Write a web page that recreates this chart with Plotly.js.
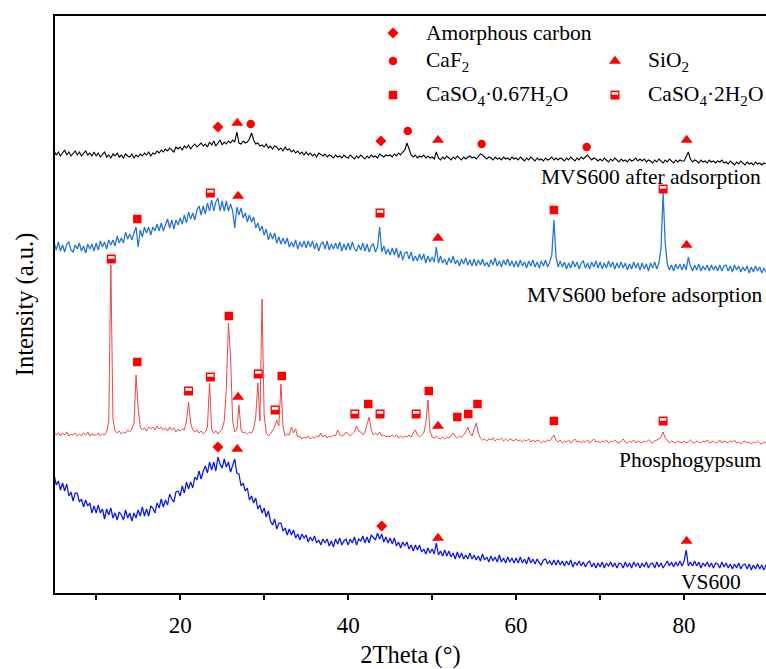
<!DOCTYPE html>
<html>
<head>
<meta charset="utf-8">
<script src="https://cdn.plot.ly/plotly-3.0.1.min.js"></script>
<style>html,body{margin:0;padding:0;background:#fff;}#chart{width:766px;height:669px;}</style>
</head>
<body>
<div id="chart"></div>
<script>
// XRD scan: start angle and step (degrees 2Theta)
const SCAN_START = 5;
const SCAN_STEP = 0.25;

// Intensities (a.u., stacked offsets), one value per scan step from 5 to 90 deg
const mvsAfter = [
442,438,441,437,440,443,438,441,437,440,442,438,441,437,439,442,438,440,437,441,
437,440,436,439,441,436,438,435,439,437,440,436,438,435,439,437,436,439,435,438,
436,439,437,440,438,441,437,440,439,442,440,443,441,444,442,445,443,441,446,444,
446,443,447,445,448,444,447,449,446,448,450,447,449,446,451,448,452,447,450,453,
448,451,449,452,450,453,451,461,450,449,452,450,451,454,460,453,449,450,447,448,
446,449,445,447,444,447,446,443,445,442,446,443,444,441,443,440,442,439,441,438,
441,438,440,437,439,436,440,438,437,439,436,438,437,435,438,436,437,435,438,436,
435,438,436,434,437,435,438,436,434,437,435,438,436,437,435,439,437,436,438,437,
438,436,439,437,440,438,441,443,450,444,438,436,438,435,437,436,438,435,437,435,
436,434,441,435,433,436,434,437,435,433,436,434,437,435,433,436,434,436,437,435,
436,434,437,439,438,436,434,436,435,433,436,434,435,433,436,434,435,433,436,434,
435,433,436,434,432,435,433,436,434,432,435,433,434,432,435,433,434,436,433,435,
433,435,434,432,435,433,436,434,432,435,433,436,434,436,438,435,433,435,434,432,
434,432,435,433,431,434,432,435,433,431,434,432,433,431,434,432,433,435,432,434,
432,434,431,433,432,430,433,431,434,432,430,433,431,434,432,430,433,431,433,432,
432,436,441,434,431,433,432,430,433,431,432,430,433,431,432,430,432,431,433,430,
431,429,432,430,428,431,429,432,430,428,431,429,430,428,431,429,430,428,430,429,
430];

const mvsBefore = [
350,343,351,342,348,341,349,351,343,341,348,344,350,342,347,340,349,344,349,342,
350,343,352,346,351,344,353,348,353,347,357,350,355,350,361,354,359,353,360,366,
346,363,356,366,360,366,358,366,362,369,362,370,362,369,374,365,373,364,373,368,
375,369,378,370,381,374,380,373,383,387,378,387,379,390,382,393,382,391,395,382,
392,382,392,382,389,382,365,386,378,385,375,380,371,378,371,376,365,370,362,367,
358,364,353,360,354,360,350,356,349,355,349,355,346,351,346,353,344,351,346,352,
345,352,346,352,344,350,342,349,351,344,352,343,349,344,350,344,351,342,349,343,
350,343,351,344,342,348,343,350,342,349,341,347,349,341,346,366,341,347,339,344,
338,345,338,345,335,342,333,340,341,334,341,332,337,332,339,333,339,330,337,331,
336,331,346,330,337,330,334,328,335,330,337,329,333,327,334,329,335,328,333,327,
334,327,333,328,334,327,331,326,333,328,335,327,332,326,333,328,334,327,332,326,
332,326,333,327,331,325,332,327,333,326,331,325,332,327,333,326,331,338,373,336,
326,332,326,331,324,330,325,332,326,331,324,330,332,325,330,324,331,326,332,325,
331,324,330,325,332,326,331,324,330,325,331,325,330,323,329,324,331,325,330,323,
330,324,329,322,330,325,331,324,330,345,400,350,329,323,328,322,329,324,329,323,
329,323,336,327,322,328,323,329,322,327,323,328,322,328,323,327,322,328,322,327,
328,322,327,321,328,323,327,321,326,322,327,320,326,321,327,322,326,320,325,321,
324];

const phosphogypsum = [
161,158,160,157,160,158,161,157,159,158,160,157,159,157,160,158,161,157,159,158,
158,160,157,159,158,161,172,328,174,162,160,162,159,161,160,163,161,164,169,218,
185,166,163,165,162,166,164,166,163,167,164,166,163,165,162,166,163,165,161,164,
162,164,163,172,191,170,163,161,163,160,162,159,161,166,210,164,160,162,159,162,
164,172,205,270,236,172,161,163,188,163,160,161,159,161,160,164,176,210,172,294,
178,160,157,159,163,166,173,167,209,166,157,159,158,166,160,164,156,157,154,156,
155,157,154,156,155,157,156,160,156,158,155,157,156,158,157,163,158,157,158,161,
159,157,159,161,167,162,161,158,161,168,176,163,158,160,158,161,157,158,156,157,
156,158,156,158,155,157,155,157,156,158,156,160,163,158,156,158,160,170,193,162,
156,155,157,155,154,156,154,156,155,157,160,157,155,157,156,158,161,166,160,157,
163,170,160,155,153,154,152,154,153,155,152,154,153,155,152,154,152,154,153,152,
154,152,153,151,153,152,154,151,153,151,153,152,150,152,151,153,152,155,158,153,
151,153,150,152,151,153,150,152,154,151,152,150,152,151,153,150,152,154,151,152,
150,152,151,153,150,152,151,153,151,150,152,154,151,150,152,151,153,150,152,151,
150,152,151,153,151,150,152,153,154,156,161,155,152,150,152,151,150,152,151,150,
152,150,151,153,151,150,152,151,150,152,151,153,150,151,152,150,151,153,150,152,
151,150,152,151,153,150,151,149,151,152,150,151,149,151,150,152,150,149,151,150,
150];

const vs600 = [
118,108,112,103,110,102,109,97,101,92,100,100,91,94,86,93,87,90,80,87,
80,88,80,84,74,84,78,85,75,80,73,81,78,73,83,75,80,72,80,75,
83,77,86,77,84,77,87,85,80,90,85,94,86,93,88,99,94,91,101,102,
97,107,100,111,104,111,105,116,113,122,114,122,127,120,131,123,131,122,136,129,
125,134,126,131,121,127,134,120,119,107,110,102,105,93,97,90,95,84,88,80,
85,76,82,72,68,74,64,70,70,62,65,58,64,58,63,55,59,53,59,55,
58,51,56,52,57,50,53,48,54,50,54,47,52,46,54,49,55,48,52,54,
48,54,50,56,48,54,52,57,50,56,50,58,56,53,60,54,59,51,56,50,
55,49,55,47,51,45,51,47,51,44,48,42,48,43,48,41,44,39,45,40,
44,39,50,38,42,37,43,37,42,36,40,34,41,35,40,34,38,34,40,34,
38,33,37,32,39,33,36,31,37,32,36,31,38,31,35,30,36,31,35,30,
35,30,36,30,34,29,36,30,34,29,34,30,28,33,34,29,32,28,33,28,
33,28,32,27,32,28,33,26,31,28,32,27,31,26,30,32,26,30,25,30,
26,31,25,30,27,31,26,30,25,30,29,25,31,26,30,25,31,27,30,25,
30,26,31,25,29,30,25,31,26,30,25,29,32,27,31,26,31,27,32,27,
32,43,27,31,27,32,27,31,25,30,27,31,26,30,25,30,29,25,31,26,
30,25,29,24,29,25,30,24,28,29,24,29,23,28,24,29,24,28,23,28,
26];

// Sample names
const sampleNames = ['MVS600 after adsorption', 'MVS600 before adsorption', 'Phosphogypsum', 'VS600'];

// Phase markers (2Theta, intensity)
const amorphousX = [24.5, 43.9, 24.5, 44.0];
const amorphousY = [466, 452, 146, 67];
const caf2X = [28.4, 47.1, 55.9, 68.4];
const caf2Y = [469, 462, 449, 446];
const sio2X = [26.8, 50.7, 80.3, 26.9, 50.7, 80.3, 26.9, 50.7, 26.8, 50.7, 80.3];
const sio2Y = [470, 453, 453, 397, 355, 348, 196, 167, 144, 55, 52];
const hemiX = [14.9, 64.5, 14.9, 25.8, 32.1, 42.4, 49.6, 53.0, 54.3, 55.4, 64.5];
const hemiY = [374, 383, 231, 277, 217, 189, 202, 176, 179, 189, 172];
const gypX = [23.6, 43.8, 77.5, 11.8, 21.0, 23.6, 29.3, 31.3, 40.8, 43.8, 48.1, 77.5];
const gypY = [400, 380, 404, 334, 202, 216, 219, 183, 179, 179, 179, 172];

// Legend labels
const phaseNames = ['Amorphous carbon', 'CaF<sub>2</sub>', 'SiO<sub>2</sub>', 'CaSO<sub>4</sub>·0.67H<sub>2</sub>O', 'CaSO<sub>4</sub>·2H<sub>2</sub>O'];

const xTickVals = [20, 40, 60, 80];
const xMinorVals = [10, 30, 50, 70];

const twoTheta = vs600.map((_, i) => SCAN_START + i * SCAN_STEP);

const RED = '#FF0000';
const FONT = 'Liberation Serif, Times New Roman, serif';
const PLOT_H = 577; // plot height in px (for marker glyph offsets)

const traces = [];
function line(y, color, w) {
  traces.push({x: twoTheta, y: y, type: 'scatter', mode: 'lines',
    line: {color: color, width: w}, hoverinfo: 'skip'});
}
line(mvsAfter, '#000000', 1.1);
line(mvsBefore, '#2272DC', 1.25);
line(phosphogypsum, '#EE4545', 1.0);
line(vs600, '#0A14F0', 1.25);

function marks(x, y, symbol, size, xa, ya) {
  traces.push({x: x, y: y, type: 'scatter', mode: 'markers', xaxis: xa || 'x', yaxis: ya || 'y',
    marker: {symbol: symbol, size: size, color: RED, line: {width: 0}}, hoverinfo: 'skip'});
}
// half-filled square glyph: red square with a white band in its upper half
function halfSquares(x, y, xa, ya, unitsPerPx) {
  traces.push({x: x, y: y, type: 'scatter', mode: 'markers', xaxis: xa || 'x', yaxis: ya || 'y',
    marker: {symbol: 'square', size: 9, color: RED, line: {width: 0}}, hoverinfo: 'skip'});
  const yb = y.map(v => v + 1.6 * unitsPerPx);
  traces.push({x: x, y: yb, type: 'scatter', mode: 'markers', xaxis: xa || 'x', yaxis: ya || 'y',
    marker: {symbol: 'line-ew', size: 4.6, line: {width: 2.6, color: '#FFFFFF'}}, hoverinfo: 'skip'});
}
marks(amorphousX, amorphousY, 'diamond', 8.5);
marks(caf2X, caf2Y, 'circle', 8.5);
marks(sio2X, sio2Y, 'triangle-up', 10.5);
marks(hemiX, hemiY, 'square', 8.5);
halfSquares(gypX, gypY, 'x', 'y', 577 / PLOT_H);

// legend keys (on an overlay 0..1 axis pair)
const legCol = [0.4754, 0.7876];
const legRow = [0.9705, 0.922, 0.863];
marks([legCol[0]], [legRow[0]], 'diamond', 8.5, 'x2', 'y2');
marks([legCol[0]], [legRow[1]], 'circle', 8.5, 'x2', 'y2');
marks([legCol[1]], [legRow[1]], 'triangle-up', 10.5, 'x2', 'y2');
marks([legCol[0]], [legRow[2]], 'square', 8.5, 'x2', 'y2');
halfSquares([legCol[1]], [legRow[2]], 'x2', 'y2', 1 / PLOT_H);

const legTextX = [0.519, 0.8312];
const annotations = [
  {text: phaseNames[0], x: legTextX[0], y: legRow[0]},
  {text: phaseNames[1], x: legTextX[0], y: legRow[1]},
  {text: phaseNames[2], x: legTextX[1], y: legRow[1]},
  {text: phaseNames[3], x: legTextX[0], y: legRow[2]},
  {text: phaseNames[4], x: legTextX[1], y: legRow[2]}
].map(a => Object.assign(a, {xref: 'paper', yref: 'paper', xanchor: 'left', yanchor: 'middle',
  showarrow: false, font: {family: FONT, size: 21.5, color: '#000'}}));

const sampleLabelPos = [[0.9958, 0.721], [0.9986, 0.5165], [0.9958, 0.2305], [0.9677, 0.019]];
sampleNames.forEach((n, i) => annotations.push({text: n, x: sampleLabelPos[i][0], y: sampleLabelPos[i][1],
  xref: 'paper', yref: 'paper', xanchor: 'right', yanchor: 'middle', showarrow: false,
  font: {family: FONT, size: 21.5, color: '#000'}}));

const layout = {
  width: 766, height: 669,
  margin: {l: 55, r: 0, t: 16, b: 76},
  paper_bgcolor: '#fff', plot_bgcolor: '#fff',
  showlegend: false,
  font: {family: FONT, color: '#000', size: 21},
  xaxis: {range: [5.1, 89.75], showline: true, linewidth: 2, linecolor: '#000', mirror: true,
    ticks: 'outside', ticklen: 5, tickwidth: 2, tickcolor: '#000', tickvals: xTickVals,
    ticklabelstandoff: 5,
    tickfont: {family: FONT, size: 23}, showgrid: false, zeroline: false,
    minor: {tickvals: xMinorVals, ticks: 'outside', ticklen: 5, tickwidth: 2, tickcolor: '#000', showgrid: false},
    title: {text: '2Theta (°)', font: {family: FONT, size: 24.5}, standoff: 12}},
  yaxis: {range: [0, 577], showline: true, linewidth: 2, linecolor: '#000', showticklabels: false,
    ticks: '', showgrid: false, zeroline: false,
    title: {text: 'Intensity (a.u.)', font: {family: FONT, size: 24.5}, standoff: 12}},
  xaxis2: {overlaying: 'x', range: [0, 1], visible: false, fixedrange: true},
  yaxis2: {overlaying: 'y', range: [0, 1], visible: false, fixedrange: true},
  annotations: annotations
};

Plotly.newPlot('chart', traces, layout, {displayModeBar: false, staticPlot: true});
</script>
</body>
</html>
